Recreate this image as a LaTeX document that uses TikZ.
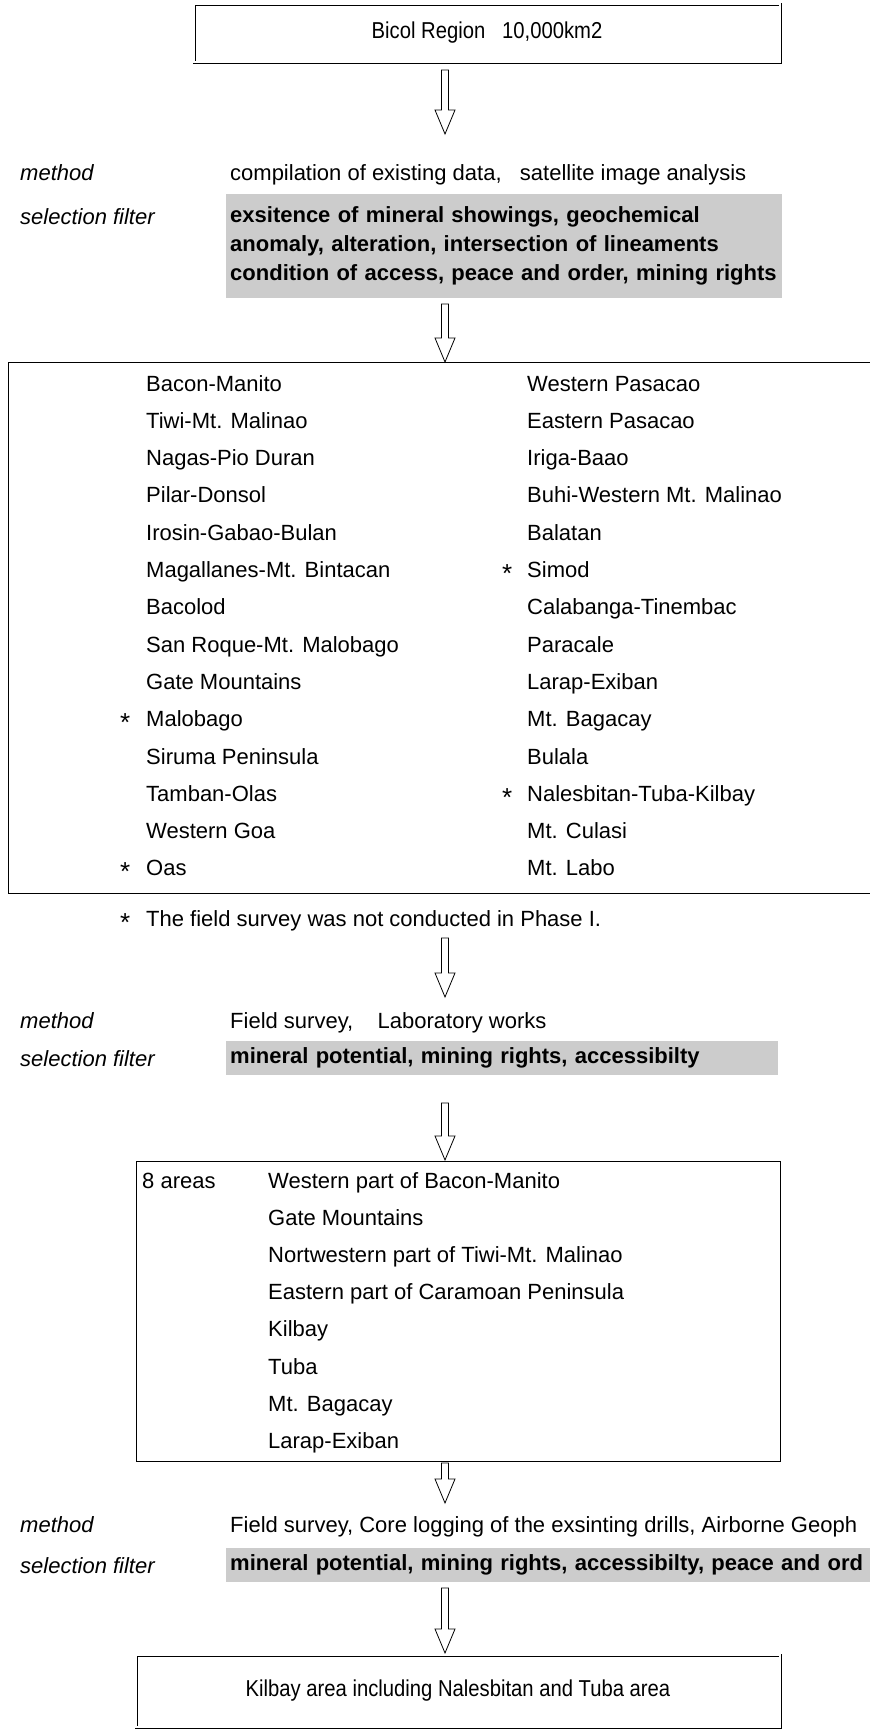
\documentclass[tikz,border=0pt]{standalone}
\usepackage{fontspec}
\setmainfont{Liberation Sans}
\newfontfamily\narrowfont{Liberation Sans}[FakeStretch=0.88]
\definecolor{filtergray}{gray}{0.80}
\tikzset{
  txt/.style={inner sep=0pt, anchor=base west},
  lbl/.style={txt, font=\fontsize{22}{27}\selectfont\itshape},
  gbox/.style={fill=filtergray, draw=none, anchor=north west, inner xsep=4pt, inner ysep=0pt,
               align=left, font=\fontsize{22}{29}\selectfont\bfseries},
  dbox/.style={draw, double, double distance=1.6pt, line width=0.7pt},
  sbox/.style={draw, line width=1.1pt, anchor=north west},
  boxtxt/.style={font=\fontsize{23}{27}\selectfont\narrowfont},
  star/.style={txt},
  harrow/.style={draw, line width=0.8pt, fill=white, line join=miter,
    to path={([xshift=-3.5pt]\tikztostart) -- ([xshift=-3.5pt,yshift=24pt]\tikztotarget)
      -- ([xshift=-10pt,yshift=24pt]\tikztotarget) -- (\tikztotarget)
      -- ([xshift=10pt,yshift=24pt]\tikztotarget) -- ([xshift=3.5pt,yshift=24pt]\tikztotarget)
      -- ([xshift=3.5pt]\tikztostart) -- cycle}},
}
\newcommand{\mystar}{\raisebox{-5pt}{\fontsize{26}{27}\selectfont *}}
\begin{document}
\begin{tikzpicture}[x=1pt,y=-1pt, font=\fontsize{22}{27}\selectfont]
\path[use as bounding box] (0,0) rectangle (870,1732);
\clip (0,0) rectangle (870,1732);

% ---------- top box
\node[dbox, boxtxt, minimum width=586pt, minimum height=58pt] (top) at (487,33)
  {Bicol Region\ \ \ 10,000km2};
\coordinate (a1s) at (445,70);  \coordinate (a1e) at (445,134);
\draw[harrow] (a1s) to (a1e);

% ---------- stage 1 filter
\node[lbl] (m1l) at (20,180) {method};
\node[txt] (m1) at (230,180) {compilation of existing data,\ \ \ satellite image analysis};
\node[lbl] (s1l) at (20,224) {selection filter};
\node[gbox, text width=548pt, minimum height=104pt] (g1) at (226,194)
  {exsitence of mineral showings, geochemical\\
   anomaly, alteration, intersection of lineaments\\
   condition of access, peace and order, mining rights};
\coordinate (a2s) at (445,304);  \coordinate (a2e) at (445,362);
\draw[harrow] (a2s) to (a2e);

% ---------- candidate list
\node[sbox, minimum width=900pt, minimum height=531pt] (list) at (8,362) {};
\foreach \t [count=\i from 0] in {Bacon-Manito, Tiwi-Mt. Malinao, Nagas-Pio Duran, Pilar-Donsol,
  Irosin-Gabao-Bulan, Magallanes-Mt. Bintacan, Bacolod, San Roque-Mt. Malobago, Gate Mountains,
  Malobago, Siruma Peninsula, Tamban-Olas, Western Goa, Oas}
  \node[txt] (L\i) at (146,391+37.3*\i) {\t};
\foreach \t [count=\i from 0] in {Western Pasacao, Eastern Pasacao, Iriga-Baao, Buhi-Western Mt. Malinao,
  Balatan, Simod, Calabanga-Tinembac, Paracale, Larap-Exiban, Mt. Bagacay, Bulala,
  Nalesbitan-Tuba-Kilbay, Mt. Culasi, Mt. Labo}
  \node[txt] (R\i) at (527,391+37.3*\i) {\t};
\node[star] (sL9) at (120,391+37.3*9) {\mystar};
\node[star] (sL13) at (120,391+37.3*13) {\mystar};
\node[star] (sR5) at (502,391+37.3*5) {\mystar};
\node[star] (sR11) at (502,391+37.3*11) {\mystar};
\node[star] (sF) at (120,926) {\mystar};
\node[txt] (foot) at (146,926) {The field survey was not conducted in Phase I.};
\coordinate (a3s) at (445,938);  \coordinate (a3e) at (445,997);
\draw[harrow] (a3s) to (a3e);

% ---------- stage 2 filter
\node[lbl] (m2l) at (20,1028) {method};
\node[txt] (m2) at (230,1028) {Field survey,\ \ \ \ Laboratory works};
\node[lbl] (s2l) at (20,1066) {selection filter};
\node[gbox, text width=544pt, minimum height=34pt] (g2) at (226,1041)
  {mineral potential, mining rights, accessibilty};
\coordinate (a4s) at (445,1103);  \coordinate (a4e) at (445,1160);
\draw[harrow] (a4s) to (a4e);

% ---------- 8 areas
\node[sbox, minimum width=644pt, minimum height=300pt] (areas) at (136,1161) {};
\node[txt] (n8) at (142,1188) {8 areas};
\foreach \t [count=\i from 0] in {Western part of Bacon-Manito, Gate Mountains,
  Nortwestern part of Tiwi-Mt. Malinao, Eastern part of Caramoan Peninsula,
  Kilbay, Tuba, Mt. Bagacay, Larap-Exiban}
  \node[txt] (A\i) at (268,1188+37.2*\i) {\t};
\coordinate (a5s) at (445,1463);  \coordinate (a5e) at (445,1503);
\draw[harrow] (a5s) to (a5e);

% ---------- stage 3 filter
\node[lbl] (m3l) at (20,1532) {method};
\node[txt] (m3) at (230,1532) {Field survey, Core logging of the exsinting drills, Airborne Geoph};
\node[lbl] (s3l) at (20,1573) {selection filter};
\node[gbox, text width=700pt, minimum height=34pt] (g3) at (226,1548)
  {mineral potential, mining rights, accessibilty, peace and ord};
\coordinate (a6s) at (445,1588);  \coordinate (a6e) at (445,1653);
\draw[harrow] (a6s) to (a6e);

% ---------- result
\node[dbox, boxtxt, minimum width=644pt, minimum height=72pt] (res) at (458,1691)
  {Kilbay area including Nalesbitan and Tuba area};
\end{tikzpicture}
\end{document}
